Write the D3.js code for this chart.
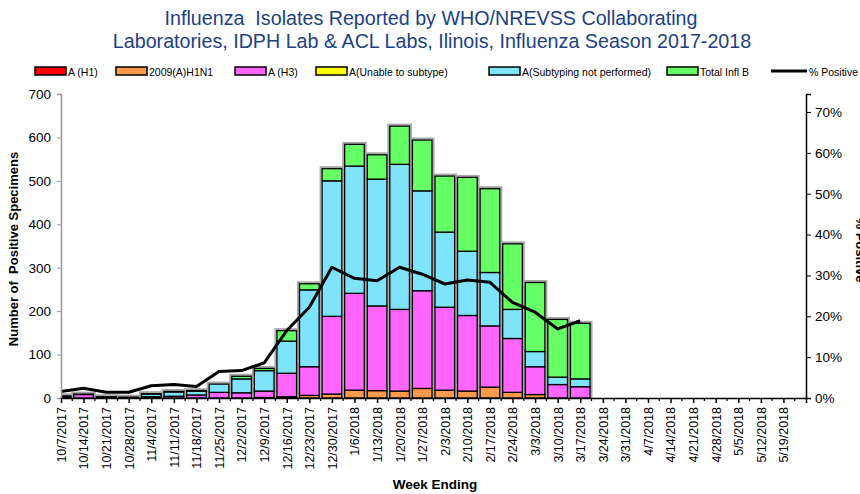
<!DOCTYPE html>
<html>
<head>
<meta charset="utf-8">
<script src="https://cdn.jsdelivr.net/npm/d3@7"></script>
<style>
  body { margin: 0; background: #fff; }
  svg { display: block; font-family: "Liberation Sans", Arial, sans-serif; }
  text { white-space: pre; }
</style>
</head>
<body>
<svg id="chart" width="860" height="494"></svg>
<script>
// week ending dates (last slot has no label in the original)
var weeks = ["10/7/2017","10/14/2017","10/21/2017","10/28/2017","11/4/2017","11/11/2017",
  "11/18/2017","11/25/2017","12/2/2017","12/9/2017","12/16/2017","12/23/2017","12/30/2017",
  "1/6/2018","1/13/2018","1/20/2018","1/27/2018","2/3/2018","2/10/2018","2/17/2018",
  "2/24/2018","3/3/2018","3/10/2018","3/17/2018","3/24/2018","3/31/2018","4/7/2018",
  "4/14/2018","4/21/2018","4/28/2018","5/5/2018","5/12/2018","5/19/2018",""];

var aH1       = [0,0,0,0,0,0,0,0,0,0,0,0,0,0,0,0,0,0,0,0,0,0,0,0];
var aH1N1     = [0,0,0,0,0,0,0,0,0,1,3,6,9,18,17,16,22,18,16,25,13,8,0,0];
var aH3       = [2,8,2,1,3,4,7,13,12,15,54,66,179,223,195,188,225,191,174,141,124,64,31,26];
var aUnable   = [0,0,0,0,0,0,0,0,0,0,0,0,0,0,0,0,0,0,0,0,0,0,0,0];
var aNotDone  = [3,0,1,1,6,10,9,19,32,47,74,177,312,293,292,334,230,173,148,123,67,35,17,18];
var totalB    = [0,1,0,0,1,1,1,0,6,5,24,14,28,50,56,88,117,129,170,193,151,159,133,128];
var pctPositive = [0.016,0.024,0.014,0.014,0.030,0.033,0.028,0.065,0.067,0.086,0.165,0.222,
  0.320,0.293,0.287,0.320,0.303,0.279,0.289,0.283,0.234,0.210,0.169,0.189];

var leftTicks = [0,100,200,300,400,500,600,700];
var rightTicks = [0,0.1,0.2,0.3,0.4,0.5,0.6,0.7];

var seriesNames = ["A (H1)","2009(A)H1N1","A (H3)","A(Unable to subtype)","A(Subtyping not performed)","Total Infl B"];
var seriesColors = ["#ff0000","#ff9a4d","#ff66ff","#ffff00","#7fe4fb","#66ff66"];
var seriesData = [aH1, aH1N1, aH3, aUnable, aNotDone, totalB];

var svg = d3.select("#chart");
var plot = { left: 61, right: 806, top: 94, bottom: 398 };

var x = d3.scalePoint().domain(d3.range(weeks.length)).range([plot.left, plot.right]);
var y = d3.scaleLinear().domain([0, 700]).range([plot.bottom, plot.top]);
var y2 = d3.scaleLinear().domain([0, 0.744]).range([plot.bottom, plot.top]);
var barW = x.step() * 0.87;

function weekTotal(i) {
  return d3.sum(seriesData, function (s) { return s[i]; });
}

// build rows for the stack
var rows = aH3.map(function (d, i) {
  var row = { i: i };
  seriesNames.forEach(function (name, k) { row[name] = seriesData[k][i]; });
  return row;
});
var stacked = d3.stack().keys(seriesNames)(rows);

svg.append("defs").append("clipPath").attr("id", "plotClip")
  .append("rect")
  .attr("x", plot.left).attr("y", plot.top - 10)
  .attr("width", plot.right - plot.left).attr("height", plot.bottom - plot.top + 10);

// titles
var title = svg.append("text")
  .attr("x", 432).attr("text-anchor", "middle")
  .attr("fill", "#203f86").style("font-size", "19.7px");
title.append("tspan").attr("x", 431).attr("y", 25).text("Influenza  Isolates Reported by WHO/NREVSS Collaborating");
title.append("tspan").attr("x", 432).attr("y", 48).text("Laboratories, IDPH Lab & ACL Labs, Ilinois, Influenza Season 2017-2018");

// legend
var legendX = [35, 116, 235, 316, 489, 667];
var legend = svg.append("g");
seriesNames.forEach(function (name, k) {
  legend.append("rect")
    .attr("x", legendX[k]).attr("y", 67).attr("width", 31).attr("height", 8)
    .attr("fill", seriesColors[k]).attr("stroke", "#000").attr("stroke-width", 1.5);
  legend.append("text")
    .attr("x", legendX[k] + 33).attr("y", 75.5)
    .style("font-size", "10.5px").text(name);
});
legend.append("line")
  .attr("x1", 771).attr("x2", 807).attr("y1", 71).attr("y2", 71)
  .attr("stroke", "#000").attr("stroke-width", 3);
legend.append("text").attr("x", 809).attr("y", 75.5)
  .style("font-size", "10.5px").text("% Positive");

// bars
var barLayer = svg.append("g").attr("clip-path", "url(#plotClip)");

barLayer.selectAll("rect.outline")
  .data(rows.filter(function (r) { return weekTotal(r.i) > 0; }))
  .enter()
  .append("rect")
  .attr("class", "outline")
  .attr("x", function (d) { return x(d.i) - barW / 2 - 1.5; })
  .attr("width", barW + 3)
  .attr("y", function (d) { return y(weekTotal(d.i)) - 1.5; })
  .attr("height", function (d) { return plot.bottom - y(weekTotal(d.i)) + 1.5; })
  .attr("fill", "none")
  .attr("stroke", "#a8a8a8")
  .attr("stroke-width", 2);

barLayer.selectAll("g.series")
  .data(stacked)
  .enter()
  .append("g")
  .attr("class", "series")
  .attr("fill", function (d, k) { return seriesColors[k]; })
  .selectAll("rect")
  .data(function (d) { return d.filter(function (p) { return p[1] - p[0] > 0; }); })
  .enter()
  .append("rect")
  .attr("x", function (d) { return x(d.data.i) - barW / 2; })
  .attr("width", barW)
  .attr("y", function (d) { return y(d[1]); })
  .attr("height", function (d) { return y(d[0]) - y(d[1]); })
  .attr("stroke", "#000")
  .attr("stroke-width", 1.3);

// % positive line
var line = d3.line()
  .x(function (d, i) { return x(i); })
  .y(function (d) { return y2(d); });
svg.append("path")
  .datum(pctPositive)
  .attr("d", line)
  .attr("fill", "none")
  .attr("stroke", "#000")
  .attr("stroke-width", 3)
  .attr("stroke-linejoin", "round");

// axes
var leftAxis = svg.append("g")
  .attr("transform", "translate(" + plot.left + ",0)")
  .call(d3.axisLeft(y).tickValues(leftTicks).tickSize(4).tickPadding(6));
leftAxis.select(".domain").attr("stroke", "#999").attr("stroke-width", 1.5);
leftAxis.selectAll(".tick line").attr("stroke", "#999");
leftAxis.selectAll("text").style("font-size", "13.5px").attr("fill", "#000");

var rightAxis = svg.append("g")
  .attr("transform", "translate(" + plot.right + ",0)")
  .call(d3.axisRight(y2).tickValues(rightTicks).tickSize(5).tickPadding(4).tickFormat(d3.format(".0%")));
rightAxis.select(".domain").attr("stroke-width", 1.5);
rightAxis.selectAll("text").style("font-size", "13.5px").attr("fill", "#000");

var bottomAxis = svg.append("g")
  .attr("transform", "translate(0," + plot.bottom + ")")
  .call(d3.axisBottom(x).tickSize(5).tickSizeOuter(0).tickFormat(function (i) { return weeks[i]; }));
bottomAxis.select(".domain").attr("stroke-width", 1.5);
bottomAxis.selectAll(".tick line").attr("stroke-width", 1.5);
bottomAxis.selectAll("text")
  .style("font-size", "12.5px")
  .attr("fill", "#000")
  .attr("text-anchor", "end")
  .attr("transform", "rotate(-90)")
  .attr("x", -9).attr("y", 0).attr("dy", "0.35em");

// minor ticks between weeks
svg.append("g").selectAll("line")
  .data(d3.range(weeks.length - 1))
  .enter()
  .append("line")
  .attr("x1", function (i) { return x(i) + x.step() / 2; })
  .attr("x2", function (i) { return x(i) + x.step() / 2; })
  .attr("y1", plot.bottom).attr("y2", plot.bottom + 3)
  .attr("stroke", "#000").attr("stroke-width", 1.2);

// axis titles
svg.append("text")
  .attr("transform", "translate(18,249) rotate(-90)")
  .attr("text-anchor", "middle")
  .style("font-size", "13px").style("font-weight", "bold")
  .text("Number of  Positive Specimens");

svg.append("text")
  .attr("x", 435).attr("y", 489)
  .attr("text-anchor", "middle")
  .style("font-size", "13.5px").style("font-weight", "bold")
  .text("Week Ending");

// right axis title, mostly outside the frame as in the original
svg.append("text")
  .attr("transform", "translate(856,250) rotate(90)")
  .attr("text-anchor", "middle")
  .style("font-size", "13px").style("font-weight", "bold")
  .text("% Positive");
</script>
</body>
</html>
